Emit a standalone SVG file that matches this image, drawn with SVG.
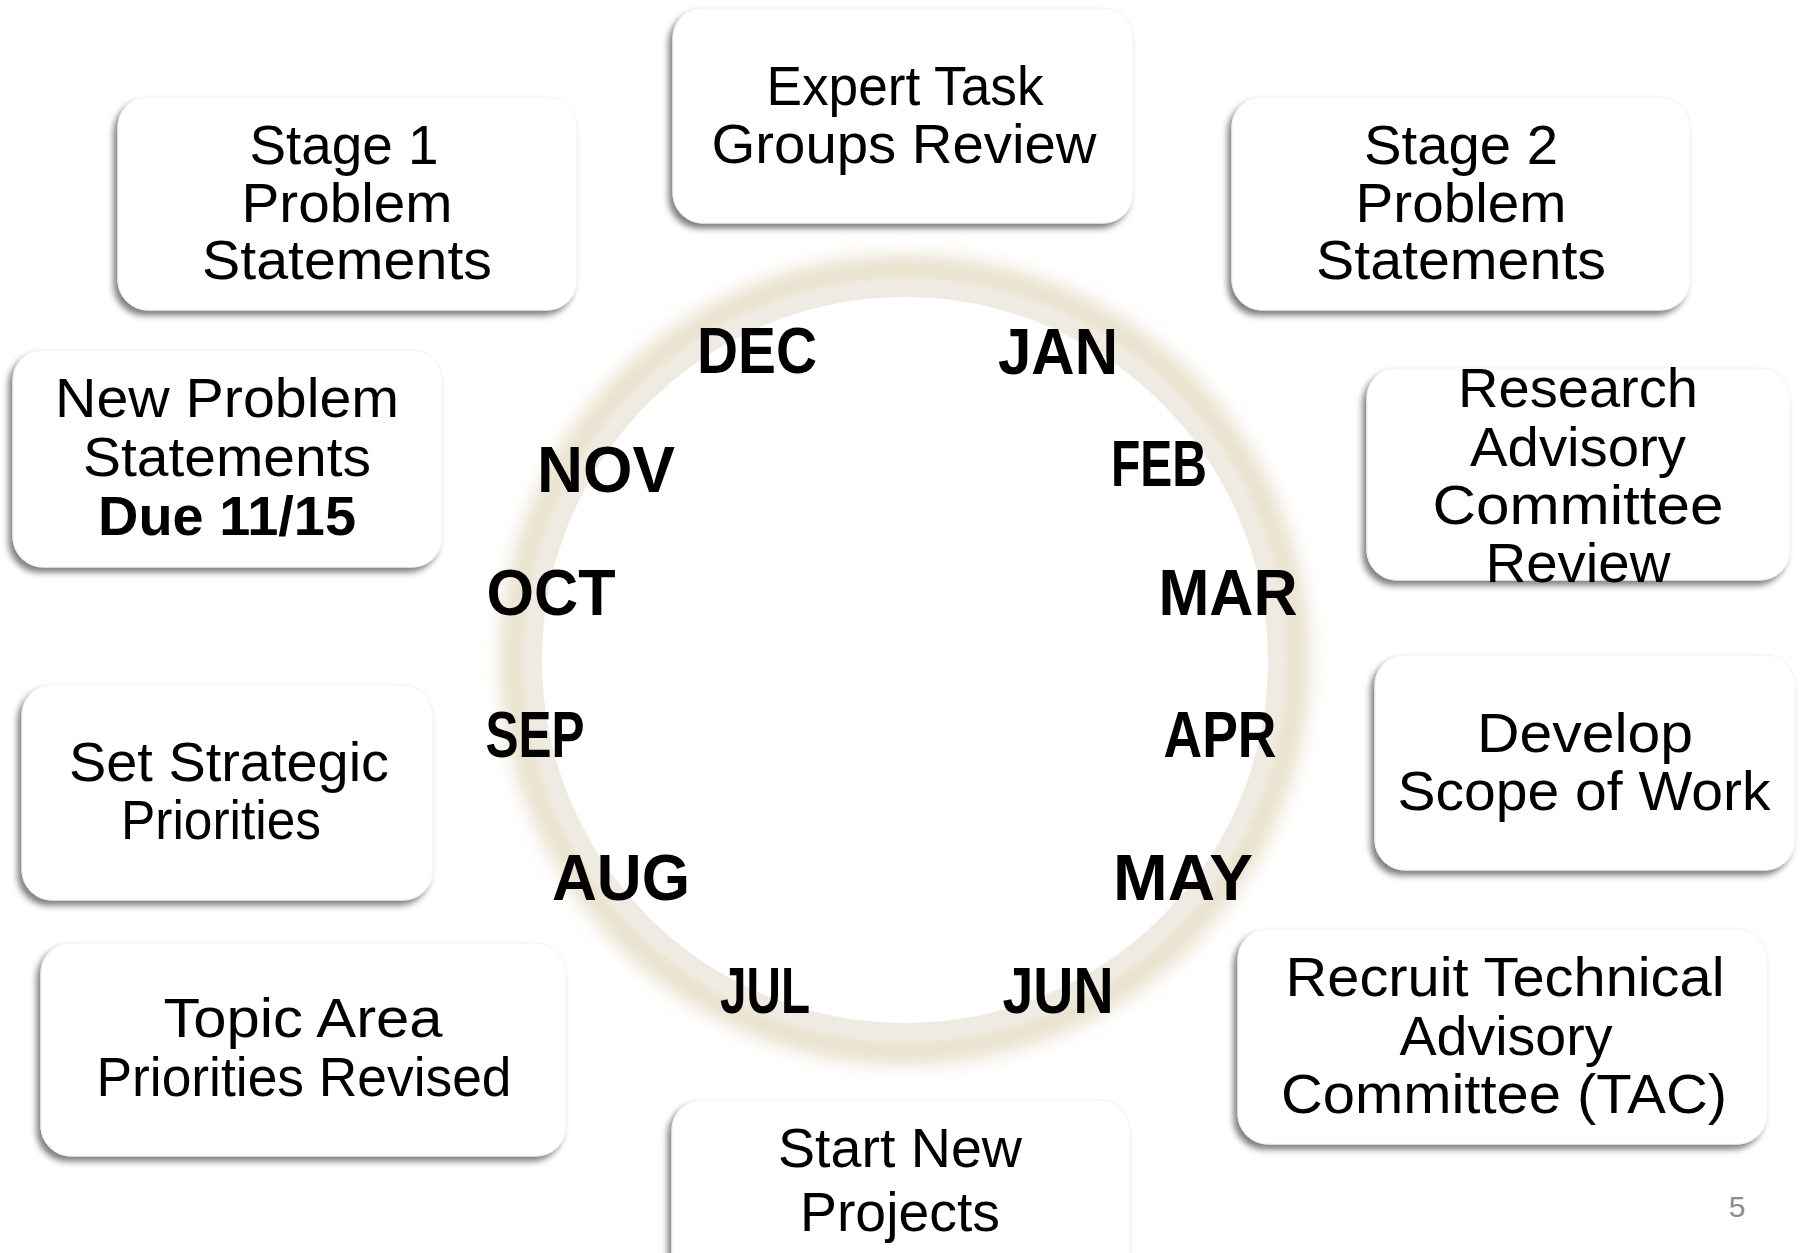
<svg xmlns="http://www.w3.org/2000/svg" width="1803" height="1253" viewBox="0 0 1803 1253">
  <defs>
    <filter id="boxShadow" x="-10%" y="-10%" width="125%" height="130%">
      <feDropShadow dx="-4" dy="5" stdDeviation="3" flood-color="#000" flood-opacity="0.5"/>
    </filter>
    <filter id="ringGlow" x="-20%" y="-20%" width="140%" height="140%">
      <feGaussianBlur stdDeviation="9"/>
    </filter>
  </defs>
  <style>
    .box { fill: #ffffff; stroke: #f2f2f2; stroke-width: 1; filter: url(#boxShadow); }
    .lbl { font-family: "Liberation Sans", Arial, sans-serif; font-size: 56px; fill: #000; text-anchor: middle; }
    .strong { font-weight: bold; }
    .month { font-family: "Liberation Sans", Arial, sans-serif; font-size: 64px; font-weight: bold; fill: #000; text-anchor: middle; }
    .pageno { font-family: "Liberation Sans", Arial, sans-serif; font-size: 30px; fill: #8c8c8c; text-anchor: middle; }
  </style>

  <rect width="1803" height="1253" fill="#ffffff"/>

  <!-- calendar ring -->
  <g id="ring">
    <circle cx="905" cy="660" r="390" fill="none" stroke="#d9cdab" stroke-width="30" opacity="0.6" filter="url(#ringGlow)"/>
    <circle cx="905" cy="660" r="364" fill="#ffffff"/>
    <circle cx="905" cy="660" r="371.5" fill="none" stroke="#efebe2" stroke-width="17"/>
  </g>

  <!-- months -->
  <g id="months">
    <text class="month" x="1058" y="374" textLength="120" lengthAdjust="spacingAndGlyphs">JAN</text>
    <text class="month" x="1159" y="486" textLength="96" lengthAdjust="spacingAndGlyphs">FEB</text>
    <text class="month" x="1228" y="615" textLength="139" lengthAdjust="spacingAndGlyphs">MAR</text>
    <text class="month" x="1220" y="757" textLength="113" lengthAdjust="spacingAndGlyphs">APR</text>
    <text class="month" x="1183" y="900" textLength="140" lengthAdjust="spacingAndGlyphs">MAY</text>
    <text class="month" x="1058" y="1013" textLength="111" lengthAdjust="spacingAndGlyphs">JUN</text>
    <text class="month" x="765" y="1013" textLength="90" lengthAdjust="spacingAndGlyphs">JUL</text>
    <text class="month" x="621" y="900" textLength="138" lengthAdjust="spacingAndGlyphs">AUG</text>
    <text class="month" x="535" y="757" textLength="99" lengthAdjust="spacingAndGlyphs">SEP</text>
    <text class="month" x="551" y="615" textLength="129" lengthAdjust="spacingAndGlyphs">OCT</text>
    <text class="month" x="606" y="492" textLength="138" lengthAdjust="spacingAndGlyphs">NOV</text>
    <text class="month" x="757" y="373" textLength="120" lengthAdjust="spacingAndGlyphs">DEC</text>
  </g>

  <!-- connectors: none drawn in this layout -->
  <g id="connectors"/>

  <g id="node-stage1">
    <rect class="box" x="118" y="97" width="459" height="213" rx="30"/>
    <text class="lbl" x="344" y="164" textLength="189" lengthAdjust="spacingAndGlyphs">Stage 1</text>
    <text class="lbl" x="347" y="222" textLength="211" lengthAdjust="spacingAndGlyphs">Problem</text>
    <text class="lbl" x="347" y="279" textLength="290" lengthAdjust="spacingAndGlyphs">Statements</text>
  </g>

  <g id="node-expert">
    <rect class="box" x="673" y="8" width="460" height="215" rx="30"/>
    <text class="lbl" x="905" y="105" textLength="277" lengthAdjust="spacingAndGlyphs">Expert Task</text>
    <text class="lbl" x="904" y="163" textLength="385" lengthAdjust="spacingAndGlyphs">Groups Review</text>
  </g>

  <g id="node-stage2">
    <rect class="box" x="1232" y="97" width="458" height="213" rx="30"/>
    <text class="lbl" x="1461" y="164" textLength="194" lengthAdjust="spacingAndGlyphs">Stage 2</text>
    <text class="lbl" x="1461" y="222" textLength="211" lengthAdjust="spacingAndGlyphs">Problem</text>
    <text class="lbl" x="1461" y="279" textLength="290" lengthAdjust="spacingAndGlyphs">Statements</text>
  </g>

  <g id="node-rac">
    <rect class="box" x="1367" y="368" width="423" height="212" rx="30"/>
    <text class="lbl" x="1578" y="407" textLength="240" lengthAdjust="spacingAndGlyphs">Research</text>
    <text class="lbl" x="1578" y="466" textLength="216" lengthAdjust="spacingAndGlyphs">Advisory</text>
    <text class="lbl" x="1578" y="524" textLength="291" lengthAdjust="spacingAndGlyphs">Committee</text>
    <text class="lbl" x="1578" y="582" textLength="185" lengthAdjust="spacingAndGlyphs">Review</text>
  </g>

  <g id="node-scope">
    <rect class="box" x="1375" y="655" width="420" height="215" rx="30"/>
    <text class="lbl" x="1585" y="752" textLength="216" lengthAdjust="spacingAndGlyphs">Develop</text>
    <text class="lbl" x="1584" y="810" textLength="373" lengthAdjust="spacingAndGlyphs">Scope of Work</text>
  </g>

  <g id="node-tac">
    <rect class="box" x="1238" y="929" width="529" height="215" rx="30"/>
    <text class="lbl" x="1505" y="996" textLength="439" lengthAdjust="spacingAndGlyphs">Recruit Technical</text>
    <text class="lbl" x="1506" y="1055" textLength="213" lengthAdjust="spacingAndGlyphs">Advisory</text>
    <text class="lbl" x="1504" y="1113" textLength="446" lengthAdjust="spacingAndGlyphs">Committee (TAC)</text>
  </g>

  <g id="node-start">
    <rect class="box" x="672" y="1100" width="458" height="190" rx="30"/>
    <text class="lbl" x="900" y="1167" textLength="244" lengthAdjust="spacingAndGlyphs">Start New</text>
    <text class="lbl" x="900" y="1231" textLength="200" lengthAdjust="spacingAndGlyphs">Projects</text>
  </g>

  <g id="node-topic">
    <rect class="box" x="41" y="943" width="525" height="213" rx="30"/>
    <text class="lbl" x="303" y="1037" textLength="279" lengthAdjust="spacingAndGlyphs">Topic Area</text>
    <text class="lbl" x="304" y="1096" textLength="415" lengthAdjust="spacingAndGlyphs">Priorities Revised</text>
  </g>

  <g id="node-strategic">
    <rect class="box" x="22" y="685" width="411" height="215" rx="30"/>
    <text class="lbl" x="229" y="781" textLength="320" lengthAdjust="spacingAndGlyphs">Set Strategic</text>
    <text class="lbl" x="221" y="839" textLength="200" lengthAdjust="spacingAndGlyphs">Priorities</text>
  </g>

  <g id="node-newps">
    <rect class="box" x="13" y="350" width="429" height="217" rx="30"/>
    <text class="lbl" x="227" y="417" textLength="344" lengthAdjust="spacingAndGlyphs">New Problem</text>
    <text class="lbl" x="227" y="476" textLength="288" lengthAdjust="spacingAndGlyphs">Statements</text>
    <text class="lbl strong" x="227" y="535" textLength="258" lengthAdjust="spacingAndGlyphs">Due 11/15</text>
  </g>

  <text class="pageno" x="1737" y="1217">5</text>
</svg>
